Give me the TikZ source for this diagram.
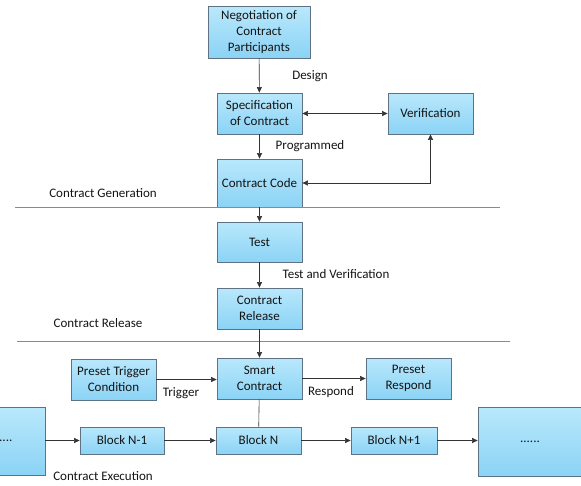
\documentclass[tikz,border=0pt]{standalone}
\usepackage{fontspec}
\setmainfont{Carlito}
\usetikzlibrary{arrows.meta}
\definecolor{boxtop}{HTML}{B9E8FC}
\definecolor{boxbot}{HTML}{8BD3F5}
\definecolor{boxline}{HTML}{5E7283}
\definecolor{conn}{HTML}{333333}
\definecolor{txt}{HTML}{141414}
\definecolor{sep}{HTML}{8A8A8A}
\begin{document}
\begin{tikzpicture}[x=1pt,y=-1pt,
  every node/.style={font=\fontsize{13}{16}\selectfont, text=txt},
  proc/.style={draw=boxline, line width=0.8pt, top color=boxtop, bottom color=boxbot,
    align=center, inner sep=1pt, minimum width=85pt, minimum height=41pt},
  lbl/.style={inner sep=1pt},
  arr/.style={draw=conn, line width=0.6pt, -{Triangle[length=5.5pt,width=5pt]}},
  darr/.style={draw=conn, line width=0.6pt, {Triangle[length=5.5pt,width=5pt]}-{Triangle[length=5.5pt,width=5pt]}},
  plain/.style={draw=conn, line width=0.6pt},
  sepline/.style={draw=sep, line width=0.8pt}]
\useasboundingbox (0,0) rectangle (581,485);
\clip (0,0) rectangle (581,485);

% boxes
\node[proc, minimum width=102pt, minimum height=52pt] (neg) at (259,32) {Negotiation of\\Contract\\Participants};
\node[proc] (spec) at (259.5,113.5) {Specification\\of Contract};
\node[proc] (ver) at (430.5,113.5) {Verification};
\node[proc, minimum height=48pt] (code) at (259.5,183) {Contract Code};
\node[proc, minimum height=40pt] (test) at (259.5,242) {Test};
\node[proc] (rel) at (259.5,308.5) {Contract\\Release};
\node[proc] (smart) at (259.5,378.5) {Smart\\Contract};
\node[proc] (trig) at (113.5,379.5) {Preset Trigger\\Condition};
\node[proc] (resp) at (408.5,378.5) {Preset\\Respond};
\node[proc, minimum width=84pt, minimum height=27pt] (bn1) at (122,440.5) {Block N-1};
\node[proc, minimum height=27pt] (bn) at (258.5,440.5) {Block N};
\node[proc, minimum width=86pt, minimum height=27pt] (bnp) at (394,440.5) {Block N+1};
\node[proc, minimum width=85pt, minimum height=68pt] (lft) at (2.5,441) {......};
\node[proc, minimum width=104pt, minimum height=69pt] (rgt) at (530,441.5) {......};

% separator lines
\coordinate (s1a) at (15,207);
\coordinate (s1b) at (500,207);
\coordinate (s2a) at (17,341);
\coordinate (s2b) at (510,341);
\draw[sepline] (s1a) -- (s1b);
\draw[sepline] (s2a) -- (s2b);

% labels
\node[lbl] (ldesign) at (310,76) {Design};
\node[lbl] (lprog) at (310,146) {Programmed};
\node[lbl] (lgen) at (103,193) {Contract Generation};
\node[lbl] (ltv) at (336,274) {Test and Verification};
\node[lbl] (lrel) at (98,323) {Contract Release};
\node[lbl] (ltrig) at (181,393) {Trigger};
\node[lbl] (lresp) at (331,392) {Respond};
\node[lbl] (lexe) at (103,476.5) {Contract Execution};

% connectors
\draw[arr] (neg) -- (spec);
\draw[darr] (spec) -- (ver);
\draw[arr] (spec) -- (code);
\draw[darr] (code.east) -- (code.east -| ver.south) -- (ver.south);
\draw[arr] (code) -- (test);
\draw[arr] (test) -- (rel);
\draw[arr] (rel) -- (smart);
\draw[arr] (trig) -- (smart.west |- trig);
\draw[arr] (smart) -- (resp);
\draw[plain] (smart) -- (bn);
\draw[arr] (lft.east |- bn1) -- (bn1);
\draw[arr] (bn1) -- (bn);
\draw[arr] (bn) -- (bnp);
\draw[arr] (bnp) -- (rgt.west |- bnp);
\end{tikzpicture}
\end{document}
